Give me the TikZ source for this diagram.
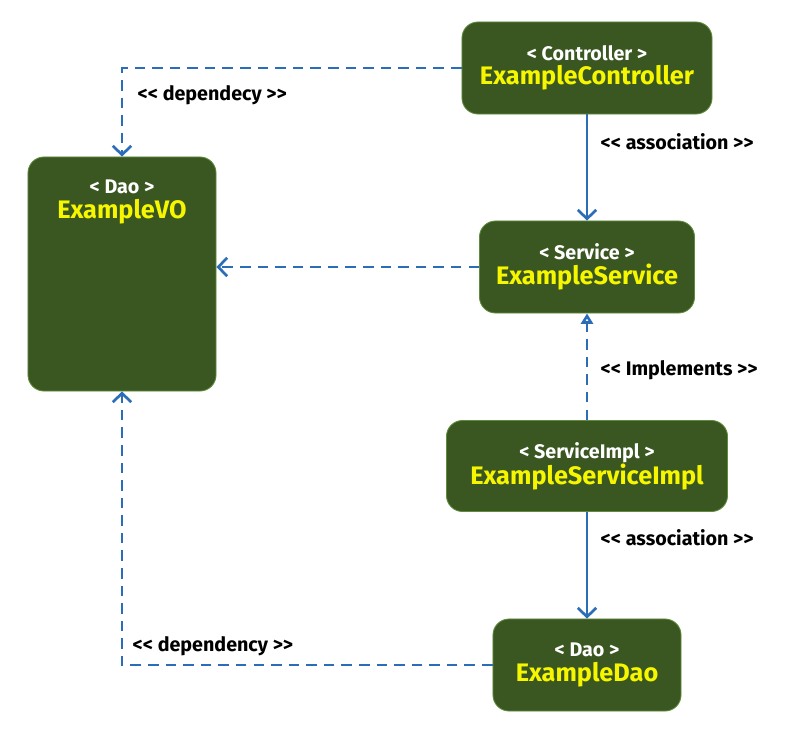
\documentclass[tikz,border=0pt]{standalone}
\usepackage{fontspec}
\setmainfont{Fira Sans}
\usetikzlibrary{arrows.meta, positioning}

\definecolor{boxgreen}{HTML}{3A5722}
\definecolor{boxedge}{HTML}{5F8C3A}
\definecolor{linkblue}{HTML}{2B6DB6}
\definecolor{titleyellow}{HTML}{F6F600}

\newcommand{\stereo}[1]{{\color{white}\fontsize{14}{18}\selectfont < #1 >}}
\newcommand{\cname}[1]{{\color{titleyellow}\fontsize{18}{18}\selectfont #1}}
\newcommand{\opn}{<\kern0pt<}
\newcommand{\cls}{>\kern0pt>}

\begin{document}
\begin{tikzpicture}[x=0.025cm, y=-0.025cm, font=\bfseries,
    classbox/.style={draw=boxedge, fill=boxgreen, line width=0.6pt,
      rounded corners=0.4cm, align=center, inner sep=0pt,
      font=\fontsize{14}{17.5}\selectfont\bfseries},
    classtitle/.style={align=center, font=\fontsize{14}{17.5}\selectfont\bfseries},
    stereolabel/.style={anchor=west, inner sep=1pt, font=\fontsize{14}{16}\selectfont\bfseries},
    depline/.style={linkblue, line width=1.9pt, dash pattern=on 7.5pt off 5pt,
      -{Straight Barb[length=2.2mm, width=4.6mm]}},
    assocline/.style={linkblue, line width=1.9pt,
      -{Straight Barb[length=2.2mm, width=4.6mm]}},
    implline/.style={linkblue, line width=1.9pt, dash pattern=on 7.5pt off 5pt,
      -{Triangle[open, fill=white, length=2.6mm, width=3mm]}}]
  \useasboundingbox (0,0) rectangle (800,743);

  % classes
  \node[classbox, minimum width=6.25cm, minimum height=2.3cm] (ctrl) at (587,68)
    {\stereo{Controller}\\ \cname{ExampleController}};
  \node[classbox, minimum width=5.375cm, minimum height=2.3cm] (svc) at (587,267)
    {\stereo{Service}\\ \cname{ExampleService}};
  \node[classbox, minimum width=7.025cm, minimum height=2.275cm] (impl) at (587,466)
    {\stereo{ServiceImpl}\\ \cname{ExampleServiceImpl}};
  \node[classbox, minimum width=4.7cm, minimum height=2.3cm] (dao) at (587,665)
    {\stereo{Dao}\\ \cname{ExampleDao}};
  \node[classbox, minimum width=4.7cm, minimum height=5.85cm] (vo) at (122,274) {};
  \node[classtitle] (votitle) at (122,202) {\stereo{Dao}\\ \cname{ExampleVO}};

  % associations
  \draw[assocline] (ctrl) -- (svc);
  \node[stereolabel] (assoctop) at (599,142) {\opn{} association \cls};
  \draw[assocline] (impl) -- (dao);
  \node[stereolabel] (assocbot) at (599,538) {\opn{} association \cls};

  % realization
  \draw[implline] (impl) -- (svc);
  \node[stereolabel] (implements) at (599,370) {\opn{} Implements \cls};

  % dependencies
  \draw[depline] (ctrl.west) -| (vo.north);
  \node[stereolabel] (deptop) at (136,95) {\opn{} dependecy \cls};
  \draw[depline] (svc.west) -- (vo.east |- svc.west);
  \draw[depline] (dao.west) -| (vo.south);
  \node[stereolabel] (depbot) at (131,646) {\opn{} dependency \cls};
\end{tikzpicture}
\end{document}
